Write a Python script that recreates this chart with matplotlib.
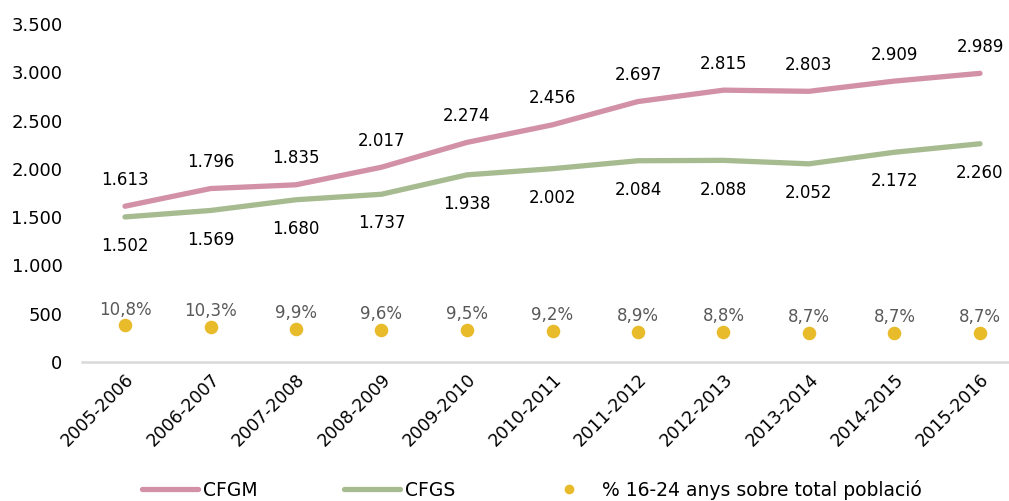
import matplotlib
matplotlib.use("Agg")
import matplotlib.pyplot as plt
from matplotlib.lines import Line2D
import numpy as np

categories = ["2005-2006", "2006-2007", "2007-2008", "2008-2009", "2009-2010",
              "2010-2011", "2011-2012", "2012-2013", "2013-2014", "2014-2015", "2015-2016"]
cfgm = [1613, 1796, 1835, 2017, 2274, 2456, 2697, 2815, 2803, 2909, 2989]
cfgs = [1502, 1569, 1680, 1737, 1938, 2002, 2084, 2088, 2052, 2172, 2260]
pct = [10.8, 10.3, 9.9, 9.6, 9.5, 9.2, 8.9, 8.8, 8.7, 8.7, 8.7]
yticks = [0, 500, 1000, 1500, 2000, 2500, 3000, 3500]

PINK = "#D291A7"
GREEN = "#A7BB90"
GOLD = "#E8BB2B"

plt.rcParams['font.family'] = ['DejaVu Sans']

def fmt(v):
    return f"{v:,}".replace(",", ".")

fig = plt.figure(figsize=(10.09, 5.01), dpi=100)
ax = fig.add_axes([82/1009, 1-362/501, 1-82/1009, (362-24)/501])
x = np.arange(len(categories))

ax.plot(x, cfgm, color=PINK, lw=3.8, solid_capstyle='round', zorder=3)
ax.plot(x, cfgs, color=GREEN, lw=3.8, solid_capstyle='round', zorder=3)
for xi, v in zip(x, cfgm):
    ax.annotate(fmt(v), (xi, v), xytext=(0, 19), textcoords='offset points',
                ha='center', va='center', fontsize=12, color='black')
for xi, v in zip(x, cfgs):
    ax.annotate(fmt(v), (xi, v), xytext=(0, -21), textcoords='offset points',
                ha='center', va='center', fontsize=12, color='black')

ax.set_xlim(-43/85.5, (1009-125)/85.5)
ax.set_ylim(0, 3500)
ax.set_yticks(yticks)
ax.set_yticklabels([fmt(t) for t in yticks], fontsize=13)
ax.set_xticks(x)
ax.set_xticklabels(categories, rotation=45, ha='right', rotation_mode='anchor', fontsize=12.5)
ax.tick_params(axis='both', length=0)
ax.tick_params(axis='y', pad=14)
ax.tick_params(axis='x', pad=6)
for s in ['top', 'right', 'left']:
    ax.spines[s].set_visible(False)
ax.spines['bottom'].set_color('#D9D9D9')
ax.spines['bottom'].set_linewidth(1.8)

ax2 = ax.twinx()
ax2.set_ylim(0, 100)
ax2.axis('off')
ax2.scatter(x, pct, s=95, color=GOLD, zorder=4, linewidths=0)
for xi, v in zip(x, pct):
    ax2.annotate(f"{v:.1f}%".replace(".", ","), (xi, v), xytext=(0, 11.5), textcoords='offset points',
                 ha='center', va='center', fontsize=12, color='#595959')

handles = [Line2D([], [], color=PINK, lw=3.8, solid_capstyle='round'),
           Line2D([], [], color=GREEN, lw=3.8, solid_capstyle='round'),
           Line2D([], [], color=GOLD, lw=0, marker='o', markersize=7, markeredgewidth=0)]
fig.legend(handles, ["CFGM", "CFGS", "% 16-24 anys sobre total població"],
           loc='center', bbox_to_anchor=(532/1009, 1-490/501), ncol=3, frameon=False,
           fontsize=13.5, handlelength=3.0, handletextpad=0.25, columnspacing=4.6)

fig.savefig("out.png", dpi=100)
